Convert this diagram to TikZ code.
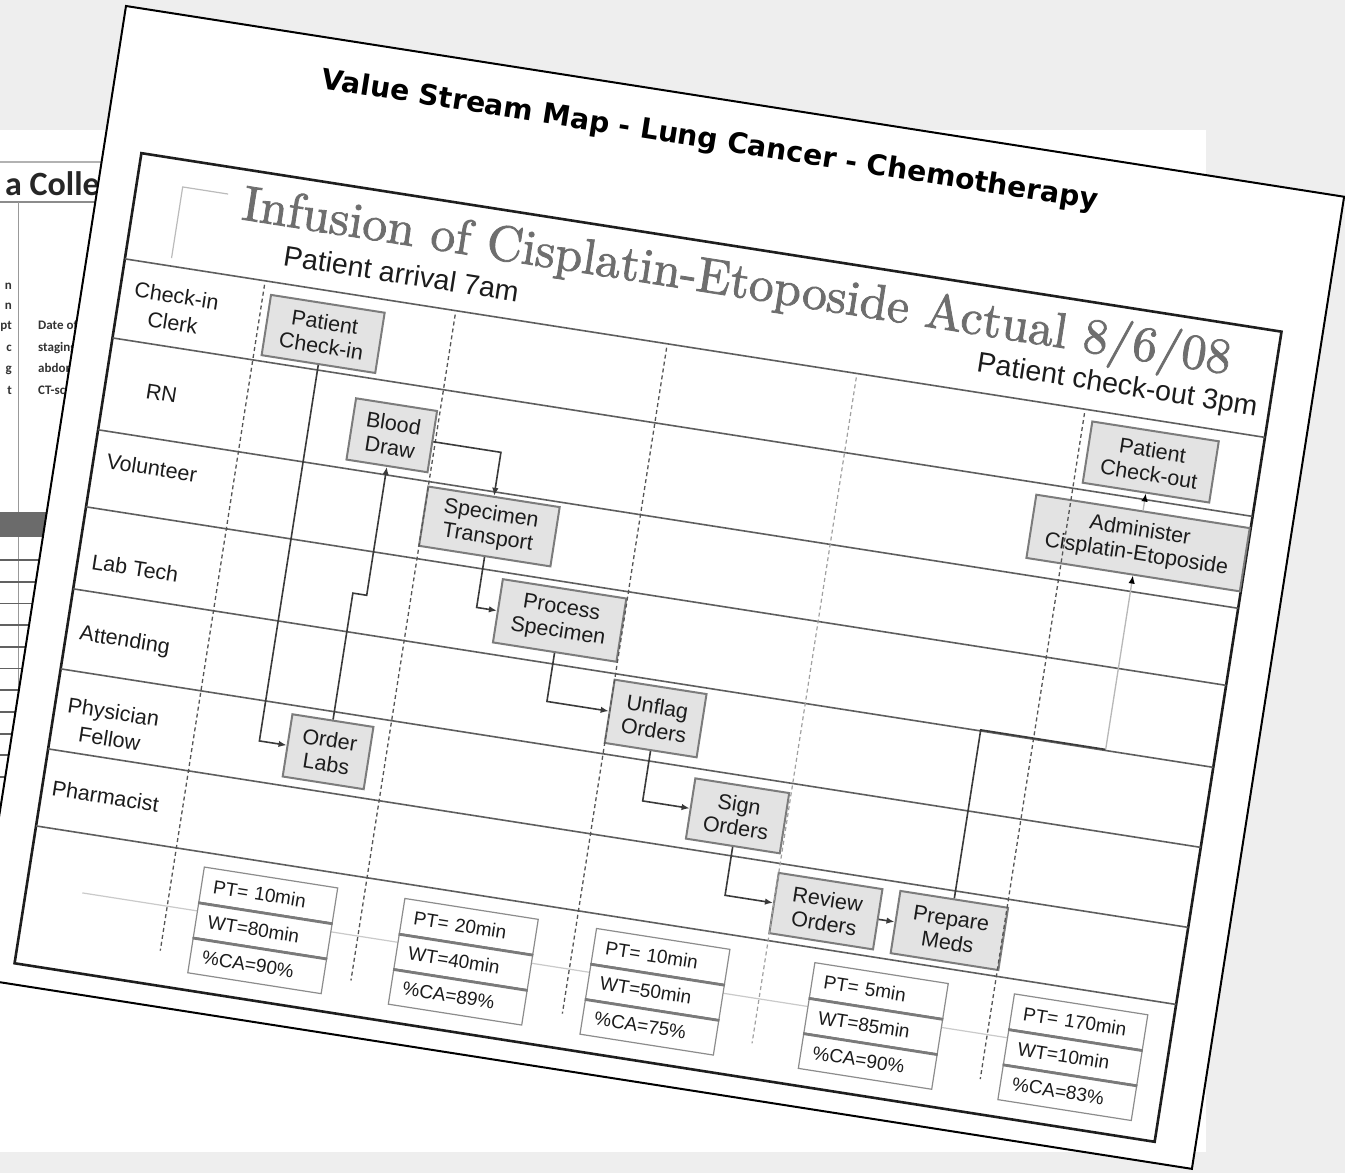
\documentclass[tikz,border=0pt]{standalone}
\usepackage{fontspec}
\usetikzlibrary{arrows.meta}
\newfontfamily\arialike{Liberation Sans}
\newfontfamily\verdlike{DejaVu Sans}
\newfontfamily\calibrilike{Carlito}
\definecolor{deskgray}{HTML}{EEEEEE}
\definecolor{laneC}{HTML}{5E5E5E}
\definecolor{sepC}{HTML}{555555}
\definecolor{sepL}{HTML}{A0A0A0}
\definecolor{boxF}{HTML}{E3E3E3}
\definecolor{boxB}{HTML}{7C7C7C}
\definecolor{txtC}{HTML}{1C1C1C}
\definecolor{connC}{HTML}{3A3A3A}
\definecolor{connL}{HTML}{B8B8B8}
\definecolor{titleC}{HTML}{6E6E6E}
\definecolor{mBord}{HTML}{8C8C8C}
\definecolor{mSep}{HTML}{7A7A7A}
\definecolor{tlC}{HTML}{CACACA}
\definecolor{frameC}{HTML}{1E1E1E}
\definecolor{bracketC}{HTML}{BBBBBB}

% slightly heavier strokes for the grey serif heading (fill + stroke rendering)
\newcommand{\heavytext}[1]{\special{pdf:literal direct 2 Tr 0.16 w}#1\special{pdf:literal direct 0 Tr}}

\tikzset{
  lane/.style={draw=laneC, line width=1.6pt},
  colsep/.style={draw=sepC, line width=1.3pt, dash pattern=on 4pt off 3pt},
  colseplight/.style={draw=sepL, line width=1.2pt, dash pattern=on 4pt off 3pt},
  stepbox/.style={draw=boxB, fill=boxF, line width=2pt, inner sep=0pt, align=center,
    font=\arialike\fontsize{21.5}{24}\selectfont, text=txtC},
  lanelbl/.style={align=center, inner sep=0pt, text=txtC,
    font=\arialike\fontsize{21.5}{27}\selectfont},
  conn/.style={draw=connC, line width=1.6pt, -{Latex[length=8pt,width=6.5pt]}},
  connplain/.style={draw=connC, line width=1.6pt},
  connlight/.style={draw=connL, line width=1.3pt, -{Latex[length=8pt,width=6.5pt,color=black]}},
  mcell/.style={draw=mBord, fill=white, line width=1.2pt, anchor=north west,
    minimum height=35.67pt, text width=111pt, inner xsep=12pt, inner ysep=0pt,
    align=left, font=\arialike\fontsize{19}{21}\selectfont, text=txtC},
  msep/.style={draw=mSep, line width=2.8pt},
  backfrag/.style={inner sep=0pt, text=black!80,
    font=\calibrilike\bfseries\fontsize{13}{15}\selectfont},
}

\begin{document}
\begin{tikzpicture}[x=1pt,y=-1pt]
\useasboundingbox (0,0) rectangle (1345,1173);
\fill[deskgray] (0,0) rectangle (1345,1173);

% ---- sheet underneath ----
\begin{scope}
  \clip (0,0) rectangle (1345,1173);
  \fill[white] (0,130) rectangle (1206,1152);
  \draw[black!30, line width=1.2pt] (0,162) -- (200,162);
  \node[anchor=base west, inner sep=0pt, text=black!85,
        font=\calibrilike\bfseries\fontsize{34}{36}\selectfont] (sheethead) at (5,195) {a Collection};
  \draw[black!45, line width=2pt] (0,202) -- (200,202);
  \draw[black!40, line width=1.5pt] (18.5,202) -- (18.5,800);
  \foreach \yy/\frag [count=\i] in {289/n, 309/n, 329/pt, 351/c, 372/g, 394/t}
    \node[backfrag, anchor=base east] (lfrag\i) at (12,\yy) {\frag};
  \foreach \yy/\frag [count=\i] in {329/Date of, 351/staging, 372/abdomen, 394/CT-scan}
    \node[backfrag, anchor=base west] (rfrag\i) at (38,\yy) {\frag};
  \fill[black!58] (0,511.7) rectangle (200,536.7);
  \foreach \yy in {560,581.7,603.4,625.1,646.8,668.5,690.2,711.9,733.6,755.3,777}
    \draw[black!62, line width=1.8pt] (0,\yy) -- (200,\yy);
\end{scope}

% ---- value stream map sheet ----
\begin{scope}[shift={(126,6)}, rotate=-8.9, every node/.append style={transform shape}]
  \filldraw[fill=white, draw=black, line width=2pt] (0,0) rectangle (1233,984);

  \node[anchor=base west, inner sep=0pt, text=black] (sheettitle) at (205,51)
    {\resizebox{785pt}{!}{\verdlike\bfseries Value Stream Map - Lung Cancer - Chemotherapy}};

  % map frame and header
  \draw[draw=frameC, line width=2.6pt] (38,143) rectangle (1192,963);
  \draw[draw=bracketC, line width=1.2pt] (84,242) -- (84,170) -- (130,170);
  \node[anchor=base west, inner sep=0pt, text=titleC] (maptitle) at (146,193)
    {\resizebox{1000pt}{!}{\heavytext{Infusion of Cisplatin-Etoposide Actual 8/6/08}}};
  \node[anchor=base west, inner sep=0pt, text=txtC, font=\arialike\fontsize{28.5}{32}\selectfont]
    (arrive) at (194.5,232) {Patient arrival 7am};
  \node[anchor=base east, inner sep=0pt, text=txtC, font=\arialike\fontsize{28.5}{32}\selectfont]
    (depart) at (1180,230) {Patient check-out 3pm};

  % swim lanes
  \foreach \vv in {250,330,423,501,584,665,746,824}
    \draw[lane] (38,\vv) -- (1192,\vv);

  \node[lanelbl] (lbl1) at (95,292) {Check-in\\Clerk};
  \node[lanelbl] (lbl2) at (95,377) {RN};
  \node[lanelbl] (lbl3) at (97,452) {Volunteer};
  \node[lanelbl] (lbl4) at (96,554) {Lab Tech};
  \node[lanelbl] (lbl5) at (97,628) {Attending};
  \node[lanelbl] (lbl6) at (97,713) {Physician\\Fellow};
  \node[lanelbl] (lbl7) at (102,784) {Pharmacist};

  % timeline under the data boxes
  \draw[draw=tlC, line width=1.2pt] (94,883) -- (1030,883);

  % data boxes
  \foreach \lft/\ptv/\wtv/\cav [count=\i] in {210/10/80/90, 413/20/40/89, 607/10/50/75, 828/5/85/90, 1030/170/10/83} {
    \node[mcell] (m\i-pt) at (\lft,838) {PT= \ptv min};
    \node[mcell] (m\i-wt) at (\lft,873.67) {WT=\wtv min};
    \node[mcell] (m\i-ca) at (\lft,909.33) {\%CA=\cav\%};
    \draw[msep] (m\i-pt.south west) -- (m\i-pt.south east);
    \draw[msep] (m\i-wt.south west) -- (m\i-wt.south east);
  }

  % process steps
  \node[stepbox, minimum width=115pt, minimum height=61pt] (chkin)  at (245.5,293.5) {Patient\\Check-in};
  \node[stepbox, minimum width=82pt,  minimum height=62pt] (blood)  at (329,383)     {Blood\\Draw};
  \node[stepbox, minimum width=133pt, minimum height=60pt] (spec)   at (439.5,458)   {Specimen\\Transport};
  \node[stepbox, minimum width=125pt, minimum height=64pt] (proc)   at (523.5,540)   {Process\\Specimen};
  \node[stepbox, minimum width=93pt,  minimum height=64pt] (unflag) at (633.5,622)   {Unflag\\Orders};
  \node[stepbox, minimum width=95pt,  minimum height=61pt] (sign)   at (729.5,705.5) {Sign\\Orders};
  \node[stepbox, minimum width=105pt, minimum height=61pt] (review) at (831.5,786)   {Review\\Orders};
  \node[stepbox, minimum width=109pt, minimum height=63pt] (prep)   at (956.5,786)   {Prepare\\Meds};
  \node[stepbox, minimum width=216pt, minimum height=64pt] (admin)  at (1083,374)    {Administer\\Cisplatin-Etoposide};
  \node[stepbox, minimum width=128pt, minimum height=62pt] (chkout) at (1083,292)    {Patient\\Check-out};
  \node[stepbox, minimum width=82pt,  minimum height=63pt] (labs)   at (315,705.5)   {Order\\Labs};

  % column dividers
  \foreach \uu in {180,373,587,1010}
    \draw[colsep] (\uu,254) -- (\uu,928);
  \draw[colseplight] (779,254) -- (779,928);

  % elbow corners of the flow
  \coordinate (k1)  at (245.5,705.5);
  \coordinate (k2a) at (315,545);
  \coordinate (k2b) at (329,545);
  \coordinate (k3)  at (439.5,383);
  \coordinate (k4)  at (439.5,540);
  \coordinate (k5)  at (523.5,622);
  \coordinate (k6)  at (633.5,705.5);
  \coordinate (k7)  at (729.5,786);
  \coordinate (k9a) at (956.5,583);
  \coordinate (k9b) at (1083,583);

  % flow
  \draw[conn] (chkin.south) -- (k1) -- (labs.west);
  \draw[conn] (labs.north) -- (k2a) -- (k2b) -- (blood.south);
  \draw[conn] (blood.east) -- (k3) -- (spec.north);
  \draw[conn] (spec.south) -- (k4) -- (proc.west);
  \draw[conn] (proc.south) -- (k5) -- (unflag.west);
  \draw[conn] (unflag.south) -- (k6) -- (sign.west);
  \draw[conn] (sign.south) -- (k7) -- (review.west);
  \draw[conn] (review.east) -- (prep.west);
  \draw[connplain] (prep.north) -- (k9a) -- (k9b);
  \draw[connlight] (k9b) -- (admin.south);
  \draw[connlight] (admin.north) -- (chkout.south);
\end{scope}
\end{tikzpicture}
\end{document}
